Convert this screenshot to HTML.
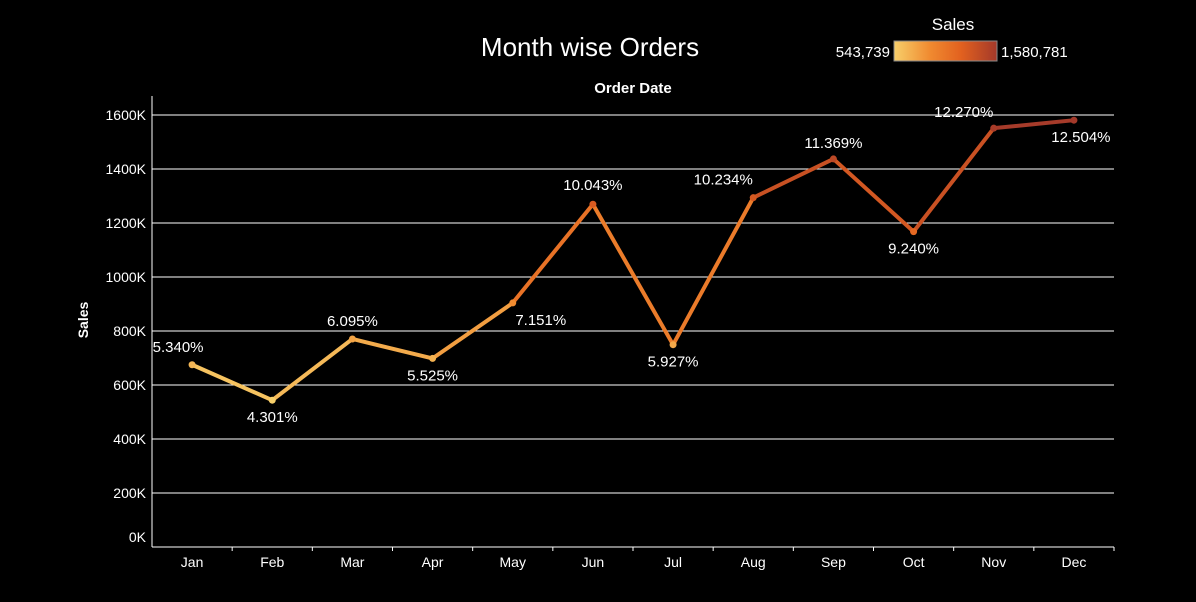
<!DOCTYPE html>
<html><head><meta charset="utf-8"><style>
body{margin:0;background:#000;width:1196px;height:602px;overflow:hidden}
svg{display:block;font-family:"Liberation Sans","DejaVu Sans",sans-serif}
</style></head><body>
<svg id="chart" width="1196" height="602">
<defs><linearGradient id="lg" x1="0" x2="1"><stop offset="0" stop-color="#f7cf6a"/><stop offset="0.35" stop-color="#f08a30"/><stop offset="0.65" stop-color="#e2611f"/><stop offset="1" stop-color="#a3392a"/></linearGradient></defs>
<text x="590" y="56" fill="#fff" font-size="26" text-anchor="middle">Month wise Orders</text>
<text x="633" y="93" fill="#fff" font-size="15" font-weight="bold" text-anchor="middle">Order Date</text>
<text x="88" y="320" fill="#fff" font-size="14" font-weight="bold" text-anchor="middle" transform="rotate(-90 88 320)">Sales</text>
<text x="953" y="30" fill="#fff" font-size="17" text-anchor="middle">Sales</text>
<text x="890" y="57" fill="#fff" font-size="15" text-anchor="end">543,739</text>
<rect x="894" y="41" width="103" height="20" fill="url(#lg)" stroke="#888"/>
<text x="1001" y="57" fill="#fff" font-size="15">1,580,781</text>
<g id="grid"></g><g id="marks"></g>
</svg>
<script>
const months=["Jan","Feb","Mar","Apr","May","Jun","Jul","Aug","Sep","Oct","Nov","Dec"];
const sales=[675000,543739,770500,698500,904000,1269600,749300,1293800,1437300,1168100,1551200,1580781];
const pctLabels=["5.340%","4.301%","6.095%","5.525%","7.151%","10.043%","5.927%","10.234%","11.369%","9.240%","12.270%","12.504%"];
const yTicks=[0,200000,400000,600000,800000,1000000,1200000,1400000,1600000];
const labDx=[-14,0,0,0,28,0,0,-30,0,0,-30,7];
const labDy=[-13,22,-13,22,22,-14,22,-13,-11,22,-11,22];
const NS="http://www.w3.org/2000/svg";
const X0=152,X1=1114,Y0=547;
const xs=i=>X0+(X1-X0)/12*(i+0.5);
const ys=v=>Y0-v/1600000*432;
const vmin=543739,vmax=1580781;
const stops=[[0,[247,207,106]],[0.35,[240,138,48]],[0.65,[226,97,31]],[1,[163,57,42]]];
function col(v){let t=(v-vmin)/(vmax-vmin);t=Math.max(0,Math.min(1,t));
for(let k=1;k<stops.length;k++){if(t<=stops[k][0]){const a=stops[k-1],b=stops[k];const f=(t-a[0])/(b[0]-a[0]);
return "rgb("+a[1].map((c,j)=>Math.round(c+(b[1][j]-c)*f)).join(",")+")";}}return "rgb(163,57,42)";}
function mk(tag,at,parent,txt){const e=document.createElementNS(NS,tag);for(const k in at)e.setAttribute(k,at[k]);if(txt!=null)e.textContent=txt;parent.appendChild(e);return e;}
const g=document.getElementById("grid"),m=document.getElementById("marks");
yTicks.forEach(t=>{const y=ys(t);
if(t>0){const l=mk("line",{x1:X0,x2:X1,y1:y,y2:y,stroke:"#fff","stroke-width":1},g);

}
const tx=mk("text",{x:146,y:y+(t===0?-5:5),fill:"#fff","font-size":14,"text-anchor":"end"},g,(t/1000)+"K");

});
const ax=mk("line",{x1:X0,x2:X1,y1:Y0,y2:Y0,stroke:"#fff"},g);


const ay=mk("line",{x1:X0,x2:X0,y1:96,y2:Y0,stroke:"#fff"},g);


months.forEach((mo,i)=>{const x=X0+(X1-X0)/12*(i+1);
const tk=mk("line",{x1:x,x2:x,y1:Y0,y2:Y0+4,stroke:"#fff"},g);


const t=mk("text",{x:xs(i),y:567,fill:"#fff","font-size":14,"text-anchor":"middle"},g,mo);

});
for(let i=0;i<sales.length-1;i++){
const l=mk("line",{x1:xs(i),y1:ys(sales[i]),x2:xs(i+1),y2:ys(sales[i+1]),stroke:col((sales[i]+sales[i+1])/2),"stroke-width":4,"stroke-linecap":"round"},m);

}
sales.forEach((v,i)=>{
const c=mk("circle",{cx:xs(i),cy:ys(v),r:3.5,fill:col(v)},m);


const t=mk("text",{x:xs(i)+labDx[i],y:ys(v)+labDy[i],fill:"#fff","font-size":15,"text-anchor":"middle"},m,pctLabels[i]);

});
</script>
</body></html>
